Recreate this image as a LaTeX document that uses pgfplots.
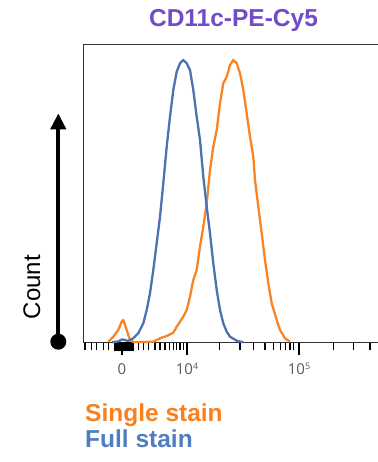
\documentclass[border=0pt]{standalone}
\usepackage{pgfplots}
\pgfplotsset{compat=1.18}
\usepackage{fontspec}
\setmainfont{Liberation Sans}
\newfontfamily\countfont{Liberation Sans}
\newfontfamily\tickfont{Open Sans}
\usetikzlibrary{arrows.meta}
\definecolor{titlepurple}{RGB}{113,75,201}
\definecolor{lorange}{RGB}{250,128,30}
\definecolor{lblue}{RGB}{79,125,191}
\definecolor{corange}{RGB}{247,133,38}
\definecolor{cblue}{RGB}{76,114,176}
\begin{document}
\begin{tikzpicture}[x=1pt,y=1pt]
\begin{axis}[
  at={(83.3pt,119.5pt)}, anchor=south west,
  scale only axis, width=300pt, height=298.2pt,
  xmin=83.3, xmax=383.3, ymin=0, ymax=298.2,
  axis x line*=box, axis y line*=left,
  xtick pos=bottom,
  ytick=\empty,
  xtick={122,187,299}, xticklabels={},
  minor xtick={85,91.7,96.7,103.3,108.3,138.3,143.3,148.3,155,160,165,169.3,173.3,176.7,180,183.3,219.5,240,253.5,265,273.5,280.5,285.5,290,293.5,333.3,353.3,370},
  extra x ticks={115,116,...,133},
  extra x tick labels={},
  extra x tick style={xtick align=outside, major tick length=9pt, major x tick style={line width=1.4pt, draw=black}},
  xtick align=outside,
  major tick length=13pt, minor tick length=8pt,
  major x tick style={line width=1.4pt, draw=black},
  minor x tick style={line width=1.4pt, draw=black},
  axis line style={draw=black!80, line width=1.3pt},
  clip=false,
]
\addplot[corange, line width=2.3pt, line join=round] coordinates {
(108.3,0.8) (113.3,5.8) (118.3,12.5) (121.7,20.8) (123.3,22.5) (126.7,12.5) (130,2.5)
(133.3,0.5) (145,0.5) (153.3,0.8) (160,4.2) (166.7,6.5) (173.3,9.8) (176.7,15.8)
(183.3,25.8) (186.7,32.5) (190,45.8) (193.3,62.5) (196.7,72.5) (200,95.8) (203.3,115.8)
(206.7,139.2) (210,172.5) (213.3,195.8) (216.7,212.5) (220,239.2) (223.3,259.2)
(226.7,265.8) (230,277.5) (233.3,282.5) (236.7,279.2) (240,269.2) (243.3,252.5)
(246.7,229.2) (250,205.8) (253.3,185.8) (255,162.5) (258.3,135.8) (261.7,109.2)
(265,82.5) (268.3,59.2) (271.7,39.2) (276.7,22.5) (280,12.5) (285,4.2) (290,0.8)
};
\addplot[cblue, line width=2.3pt, line join=round] coordinates {
(112,0.3) (118,1) (122,3) (125,2.5) (128,1.5) (133.3,4.2) (138.3,9.2) (143.3,19.2)
(146.7,32.5) (150,49.2) (153.3,72.5) (156.7,99.2) (160,125.8) (163.3,159.2)
(166.7,195.8) (170,225.8) (173.3,252.5) (176.7,270.8) (180,279.2) (183.3,282.5)
(186.7,279.2) (190,272.5) (193.3,252.5) (196.7,225.8) (200,202.5) (203.3,165.8)
(206.7,135.8) (210,109.2) (213.3,79.2) (216.7,52.5) (220,32.5) (223.3,19.2)
(226.7,10.8) (230,5.8) (236.7,1.8) (243.3,0.2)
};
\end{axis}
% tick labels
\node[anchor=base, text=black!65, font=\tickfont\fontsize{15}{18}\selectfont] at (122pt,87.7pt) {0};
\node[anchor=base, text=black!65, font=\tickfont\fontsize{15}{18}\selectfont] at (187pt,87.7pt) {10\raisebox{0.55ex}{\fontsize{9}{10}\selectfont 4}};
\node[anchor=base, text=black!65, font=\tickfont\fontsize{15}{18}\selectfont] at (299pt,87.7pt) {10\raisebox{0.55ex}{\fontsize{9}{10}\selectfont 5}};
% title
\node[anchor=base, inner sep=0pt, text=titlepurple, font=\fontsize{24.5}{28}\selectfont\bfseries] at (233.5pt,435pt) {CD11c-PE-Cy5};
% legend texts
\node[anchor=base west, inner sep=0pt, text=lorange, font=\fontsize{24.5}{27}\selectfont\bfseries] at (85pt,40pt) {Single stain};
\node[anchor=base west, inner sep=0pt, text=lblue, font=\fontsize{24.5}{27}\selectfont\bfseries] at (85pt,14pt) {Full stain};
% count arrow
\draw[line width=4pt, -{Triangle[width=15pt,length=16pt]}] (58.3pt,120.3pt) -- (58.3pt,348.7pt);
\fill (58.3pt,120.3pt) circle (8pt);
\node[rotate=90, anchor=base, inner sep=0pt, font=\countfont\fontsize{24}{28}\selectfont] at (40pt,175pt) {Count};
\pgfresetboundingbox
\path[use as bounding box] (0,0) rectangle (377pt,462pt);
\end{tikzpicture}
\end{document}
